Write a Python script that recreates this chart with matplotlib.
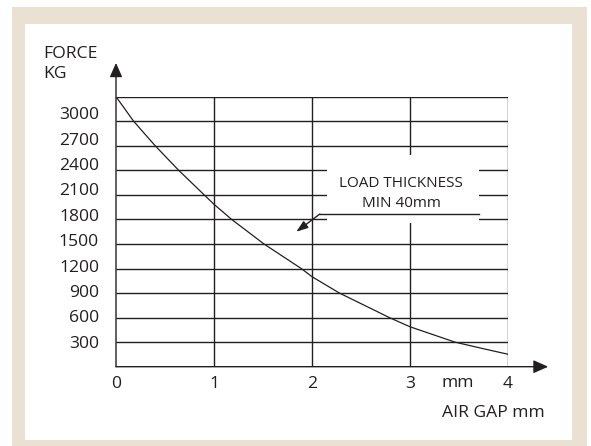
import matplotlib
matplotlib.use("Agg")
import matplotlib.pyplot as plt
from matplotlib.patches import Rectangle

# ---- data ----
air_gap = [0, 0.18, 0.40, 0.64, 0.90, 1.0, 1.18, 1.51, 1.89, 2.0, 2.28, 2.79, 3.0, 3.46, 3.73, 4.0]
force = [3300, 3000, 2700, 2400, 2100, 1985, 1800, 1500, 1200, 1100, 900, 600, 488, 300, 225, 152]
y_ticks = [300, 600, 900, 1200, 1500, 1800, 2100, 2400, 2700, 3000]
y_grid = [300, 600, 900, 1200, 1500, 1800, 2100, 2400, 2700, 3000, 3300]
x_ticks = [0, 1, 2, 3, 4]
x_grid = [1, 2, 3, 4]
y_title = "FORCE\nKG"
x_title = "AIR GAP mm"
x_unit = "mm"
note_lines = ["LOAD THICKNESS", "MIN 40mm"]

INK = "#231f20"
BEIGE = "#eae1d3"
W, H = 591, 446
plt.rcParams['font.family'] = ['Open Sans', 'DejaVu Sans']
FS = 12.6

fig = plt.figure(figsize=(W / 100, H / 100), dpi=100)
fig.patch.set_facecolor("white")
fig.patches.append(Rectangle((12 / W, 0), 575 / W, 439 / H, transform=fig.transFigure,
                             facecolor=BEIGE, edgecolor="none", zorder=-2))
fig.patches.append(Rectangle((25 / W, 6 / H), 547 / W, 416 / H, transform=fig.transFigure,
                             facecolor="white", edgecolor="none", zorder=-1))

ax = fig.add_axes([116 / W, (H - 366.7) / H, 392 / W, 270 / H])
ax.set_facecolor("none")
ax.set_xlim(0, 4)
ax.set_ylim(0, 3300)
for s in ax.spines.values():
    s.set_visible(False)

lw = 1.0
for g in y_grid:
    ax.plot([0, 4], [g, g], color=INK, lw=lw, zorder=2, solid_capstyle="butt")
for g in x_grid:
    ax.plot([g, g], [0, 3300], color=INK, lw=lw, zorder=2, solid_capstyle="butt")

# axes with arrows
ax.annotate("", xy=(0, 3712), xytext=(0, 0), annotation_clip=False,
            arrowprops=dict(arrowstyle="-|>,head_length=0.85,head_width=0.38",
                            color=INK, lw=lw, shrinkA=0, shrinkB=0), zorder=3)
ax.annotate("", xy=(4.41, 0), xytext=(0, 0), annotation_clip=False,
            arrowprops=dict(arrowstyle="-|>,head_length=0.9,head_width=0.4",
                            color=INK, lw=lw, shrinkA=0, shrinkB=0), zorder=3)

# curve
ax.plot(air_gap, force, color=INK, lw=0.9, zorder=4, solid_joinstyle="round")

# annotation box
ax.add_patch(Rectangle((2.15, 1756), 1.55, 831, facecolor="white", edgecolor="none", zorder=5))
ax.plot([2.08, 3.70], [1866, 1866], color=INK, lw=lw, zorder=6)
ax.annotate("", xy=(1.84, 1650), xytext=(2.08, 1866),
            arrowprops=dict(arrowstyle="-|>,head_length=0.7,head_width=0.25",
                            color=INK, lw=lw, shrinkA=0, shrinkB=0), zorder=6)
ax.text(2.91, 2241, note_lines[0], ha="center", va="center", fontsize=11, color=INK, zorder=7)
ax.text(2.91, 1997, note_lines[1], ha="center", va="center", fontsize=11, color=INK, zorder=7)

# ticks
label_stretch = 1.034
ax.set_yticks([305.6 + (v - 300) * label_stretch for v in y_ticks])
ax.set_yticklabels([str(v) for v in y_ticks])
ax.set_xticks(x_ticks)
ax.set_xticklabels([str(v) for v in x_ticks])
ax.tick_params(axis="both", length=0, labelsize=FS, colors=INK)
ax.tick_params(axis="y", pad=12.2)
ax.tick_params(axis="x", pad=7)

ax.text(3.49, -200, x_unit, ha="center", va="center", fontsize=FS, color=INK,
        clip_on=False)
fig.text(545 / W, 1 - 413 / H, x_title, ha="right", va="center", fontsize=FS, color=INK)
fig.text(43 / W, 1 - 64 / H, y_title, ha="left", va="center", fontsize=FS, color=INK,
         linespacing=1.3)

fig.savefig("out.png", dpi=100)
